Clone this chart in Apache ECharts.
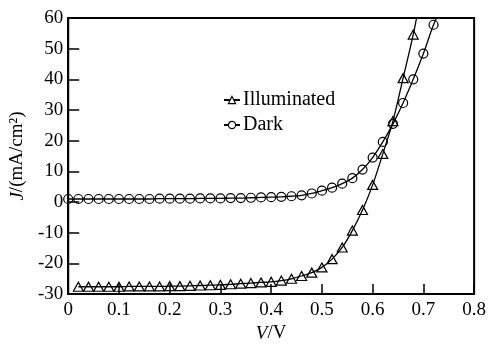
<!DOCTYPE html>
<html>
<head>
<meta charset="utf-8">
<script src="https://cdn.jsdelivr.net/npm/echarts@6/dist/echarts.min.js"></script>
<style>
  html, body { margin: 0; padding: 0; background: #fff; }
  #chart { width: 489px; height: 348px; }
</style>
</head>
<body>
<div id="chart"></div>
<script>
// voltage (V) and current density (mA/cm2)
var illumV = [0.02, 0.04, 0.06, 0.08, 0.10, 0.12, 0.14, 0.16, 0.18, 0.20, 0.22, 0.24, 0.26, 0.28, 0.30,
  0.32, 0.34, 0.36, 0.38, 0.40, 0.42, 0.44, 0.46, 0.48, 0.50, 0.52, 0.54, 0.56, 0.58, 0.60, 0.62, 0.64, 0.66, 0.68];
var illumJ = [-27.6, -27.6, -27.6, -27.6, -27.6, -27.5, -27.5, -27.5, -27.5, -27.4, -27.4, -27.3, -27.2, -27.1, -27.0,
  -26.8, -26.6, -26.4, -26.2, -26.0, -25.6, -25.0, -24.1, -23.0, -21.3, -18.6, -14.8, -9.3, -2.6, 5.6, 15.7, 26.4, 40.4, 54.6];

var darkV = [0.00, 0.02, 0.04, 0.06, 0.08, 0.10, 0.12, 0.14, 0.16, 0.18, 0.20, 0.22, 0.24, 0.26, 0.28, 0.30,
  0.32, 0.34, 0.36, 0.38, 0.40, 0.42, 0.44, 0.46, 0.48, 0.50, 0.52, 0.54, 0.56, 0.58, 0.60, 0.62, 0.64, 0.66, 0.68, 0.70, 0.72];
var darkJ = [1.0, 1.0, 1.0, 1.0, 1.0, 1.0, 1.0, 1.0, 1.0, 1.1, 1.1, 1.1, 1.1, 1.2, 1.2, 1.2,
  1.3, 1.3, 1.4, 1.5, 1.6, 1.7, 1.9, 2.2, 2.8, 3.7, 4.7, 6.0, 7.8, 10.6, 14.5, 19.6, 25.5, 32.3, 40.0, 48.4, 57.8];

// where the drawn curves leave the top of the frame (no marker)
var illumTail = [0.69, 63];
var darkTail = [0.735, 63];

var xTicks = [0, 0.1, 0.2, 0.3, 0.4, 0.5, 0.6, 0.7, 0.8];
var yTicks = [-30, -20, -10, 0, 10, 20, 30, 40, 50, 60];

function pairs(xs, ys) {
  return xs.map(function (x, i) { return [x, ys[i]]; });
}

var font = '"Liberation Serif", "DejaVu Serif", serif';
var illumData = pairs(illumV, illumJ);
illumData.push({ value: illumTail, symbol: 'none' });
var darkData = pairs(darkV, darkJ);
darkData.push({ value: darkTail, symbol: 'none' });

var chart = echarts.init(document.getElementById('chart'));
var option = {
  animation: false,
  backgroundColor: '#fff',
  grid: {
    left: 65, right: 13, top: 18, bottom: 48,
    show: true, borderColor: '#000', borderWidth: 2, backgroundColor: 'transparent'
  },
  legend: {
    orient: 'vertical',
    left: 218,
    top: 85,
    itemWidth: 16,
    itemHeight: 9,
    itemGap: 5,
    itemStyle: { color: '#fff', borderColor: '#000', borderWidth: 1.2 },
    textStyle: { fontFamily: font, fontSize: 20, color: '#000', padding: [0, 0, 0, -2] },
    data: ['Illuminated', 'Dark']
  },
  xAxis: {
    type: 'value',
    min: xTicks[0],
    max: xTicks[xTicks.length - 1],
    interval: 0.1,
    name: '{i|V}/V',
    nameLocation: 'middle',
    nameGap: 27,
    nameTextStyle: {
      fontFamily: font, fontSize: 19, color: '#000',
      rich: { i: { fontFamily: font, fontSize: 19, fontStyle: 'italic', color: '#000' } }
    },
    axisLine: { onZero: false, lineStyle: { color: '#000', width: 2 } },
    axisTick: { inside: true, length: 10, lineStyle: { color: '#000', width: 1.5 } },
    axisLabel: {
      margin: 6, fontFamily: font, fontSize: 19, color: '#000',
      formatter: function (v) { return v === 0 ? '0' : v.toFixed(1); }
    },
    splitLine: { show: false }
  },
  yAxis: {
    type: 'value',
    min: yTicks[0],
    max: yTicks[yTicks.length - 1],
    interval: 10,
    name: '{i|J}/(mA/cm²)',
    nameLocation: 'middle',
    nameGap: 33,
    nameRotate: 90,
    nameTextStyle: {
      fontFamily: font, fontSize: 19, color: '#000',
      rich: { i: { fontFamily: font, fontSize: 19, fontStyle: 'italic', color: '#000' } }
    },
    axisLine: { onZero: false, lineStyle: { color: '#000', width: 2 } },
    axisTick: { inside: true, length: 11, lineStyle: { color: '#000', width: 1.5 } },
    axisLabel: { margin: 5, fontFamily: font, fontSize: 19, color: '#000' },
    splitLine: { show: false }
  },
  series: [
    {
      name: 'Illuminated',
      type: 'line',
      data: illumData,
      smooth: 0.3,
      clip: true,
      symbol: 'triangle',
      symbolSize: [10, 9],
      lineStyle: { color: '#000', width: 1.3 },
      itemStyle: { color: 'rgba(255,255,255,0)', borderColor: '#000', borderWidth: 1.2 }
    },
    {
      name: 'Dark',
      type: 'line',
      data: darkData,
      smooth: 0.3,
      clip: true,
      symbol: 'circle',
      symbolSize: 9,
      lineStyle: { color: '#000', width: 1.3 },
      itemStyle: { color: 'rgba(255,255,255,0)', borderColor: '#000', borderWidth: 1.2 }
    }
  ]
};
chart.setOption(option);
</script>
</body>
</html>
